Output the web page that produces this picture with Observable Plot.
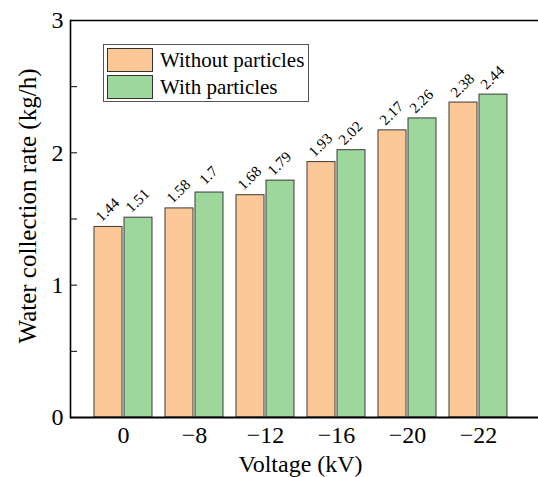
<!DOCTYPE html>
<html>
<head>
<meta charset="utf-8">
<script src="https://cdn.jsdelivr.net/npm/d3@7"></script>
<script src="https://cdn.jsdelivr.net/npm/@observablehq/plot@0.6"></script>
<style>
  html, body { margin: 0; padding: 0; background: #fff; overflow: hidden; }
  #wrap { position: relative; width: 538px; height: 477px; font-family: "Liberation Serif", "Times New Roman", serif; }
  #legend { position: absolute; left: 103px; top: 44px; width: 206px; height: 58px; border: 1.3px solid #555; box-sizing: border-box; background: #fff; }
  .row { position: absolute; left: 3px; height: 24px; display: flex; align-items: center; }
  .sw { width: 46px; height: 24px; box-sizing: border-box; border: 1.2px solid #333; }
  .lab { margin-left: 7px; font-size: 21px; color: #000; line-height: 24px; white-space: nowrap; }
</style>
</head>
<body>
<div id="wrap"></div>
<script>
const voltages = ["0", "−8", "−12", "−16", "−20", "−22"];
const seriesNames = ["Without particles", "With particles"];
const withoutParticles = [1.44, 1.58, 1.68, 1.93, 2.17, 2.38];
const withParticles = [1.51, 1.7, 1.79, 2.02, 2.26, 2.44];
const seriesColors = ["#FDC897", "#9DD79B"];
const yTicks = [0, 0.5, 1, 1.5, 2, 2.5, 3];
const yLabels = [0, 1, 2, 3];
const xTitle = "Voltage (kV)";
const yTitle = "Water collection rate (kg/h)";

const rowsA = voltages.map((v, i) => ({voltage: v, value: withoutParticles[i]}));
const rowsB = voltages.map((v, i) => ({voltage: v, value: withParticles[i]}));

const font = "Liberation Serif, Times New Roman, serif";

const chart = Plot.plot({
  width: 538,
  height: 477,
  marginLeft: 70,
  marginRight: 0,
  marginTop: 20,
  marginBottom: 60,
  style: {fontFamily: font, background: "transparent"},
  x: {domain: voltages, range: [70, 530], paddingInner: 0.19, paddingOuter: 0.29, label: null},
  y: {domain: [0, 3], label: null},
  marks: [
    Plot.barY(rowsA, {x: "voltage", y: "value", fill: seriesColors[0], stroke: "#3a3a3a", strokeWidth: 1, insetRight: 30}),
    Plot.barY(rowsB, {x: "voltage", y: "value", fill: seriesColors[1], stroke: "#3a3a3a", strokeWidth: 1, insetLeft: 30}),
    Plot.text(rowsA, {x: "voltage", y: "value", text: d => String(d.value), rotate: -45, dx: -16, dy: -17, fontSize: 15, textAnchor: "middle", fill: "#000"}),
    Plot.text(rowsB, {x: "voltage", y: "value", text: d => String(d.value), rotate: -45, dx: 14, dy: -17, fontSize: 15, textAnchor: "middle", fill: "#000"}),
    Plot.axisX({tickSize: 0, tickPadding: 8, fontSize: 24, label: null}),
    Plot.axisY({ticks: yTicks, tickSize: -7, tickPadding: 14, tickFormat: d => yLabels.includes(d) ? String(d) : "", fontSize: 24, label: null}),
    Plot.ruleY([0], {stroke: "#000", strokeWidth: 2.2}),
    Plot.ruleY([3], {stroke: "#000", strokeWidth: 1.6}),
    Plot.frame({anchor: "left", stroke: "#000", strokeWidth: 1.6}),
    Plot.text([xTitle], {frameAnchor: "bottom", text: d => d, textAnchor: "middle", dx: -4, dy: 54, fontSize: 24, fill: "#000"}),
    Plot.text([yTitle], {frameAnchor: "left", text: d => d, textAnchor: "middle", lineAnchor: "middle", rotate: -90, dx: -43, dy: -13, fontSize: 25, fill: "#000"})
  ]
});

const wrap = document.getElementById("wrap");
wrap.appendChild(chart);

const legend = document.createElement("div");
legend.id = "legend";
seriesNames.forEach((name, i) => {
  const row = document.createElement("div");
  row.className = "row";
  row.style.top = (i === 0 ? 3 : 30) + "px";
  const sw = document.createElement("div");
  sw.className = "sw";
  sw.style.background = seriesColors[i];
  const lab = document.createElement("span");
  lab.className = "lab";
  lab.textContent = name;
  row.appendChild(sw);
  row.appendChild(lab);
  legend.appendChild(row);
});
wrap.appendChild(legend);
</script>
</body>
</html>
